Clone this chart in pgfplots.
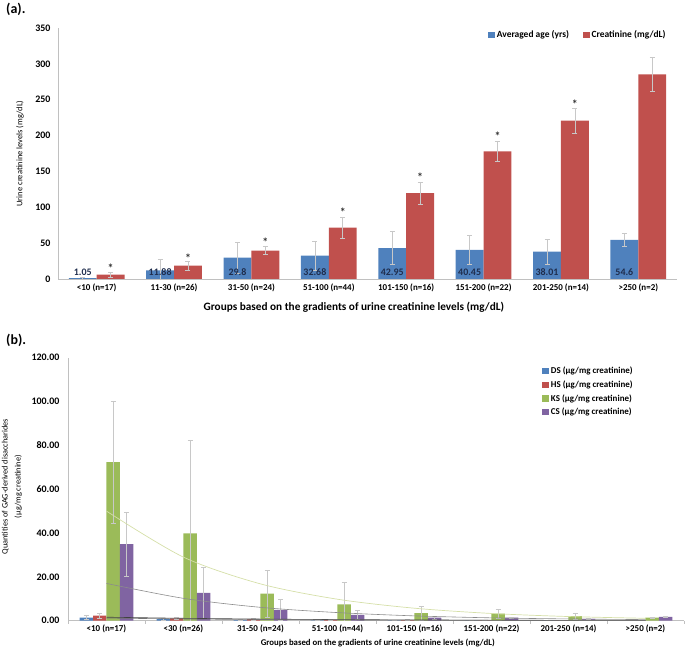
\documentclass[border=0pt]{standalone}
\usepackage{fontspec}
\setmainfont{Carlito}
\usepackage{pgfplots}
\pgfplotsset{compat=1.18}
\definecolor{cblue}{HTML}{4F81BD}
\definecolor{cred}{HTML}{C0504D}
\definecolor{cgreen}{HTML}{9BBB59}
\definecolor{cpurple}{HTML}{8064A2}
\definecolor{errc}{HTML}{C8C8C8}
\definecolor{axc}{HTML}{C0C0C0}
\definecolor{labc}{HTML}{1F2D4D}
\definecolor{kstr}{HTML}{D5DFA8}
\definecolor{cstr}{HTML}{8C8C8C}

\pgfplotsset{
  excel/.style={
    scale only axis, anchor=south west,
    axis x line*=bottom, axis y line*=left,
    axis line style={draw=axc, line width=0.8pt},
    xmin=-0.5, xmax=7.5, ymin=0,
    xtick={0,...,7},
    major tick length=0pt,
    xticklabel style={font=\fontsize{9}{10}\selectfont\bfseries},
    yticklabel style={font=\fontsize{10}{11}\selectfont\bfseries},
    /pgf/number format/assume math mode=true,
    legend cell align=left,
    legend image code/.code={\path[#1,draw=none] (0bp,-3.2bp) rectangle (6.5bp,3.2bp);},
  },
  errs/.style={
    draw=none, no markers,
    error bars/y dir=both, error bars/y explicit,
    error bars/error bar style={draw=errc, line width=0.6pt},
    error bars/error mark options={draw=errc, rotate=90, mark size=2.5bp, line width=0.6pt},
  },
}

\begin{document}
\begin{tikzpicture}
\useasboundingbox (0,0) rectangle (685bp,647bp);

% ---------------- (a) ----------------
\begin{axis}[excel,
  at={(58bp,368bp)}, width=619bp, height=251bp,
  ymax=350, ytick={0,50,...,350},
  xticklabels={{<10 (n=17)},{11-30 (n=26)},{31-50 (n=24)},{51-100 (n=44)},{101-150 (n=16)},{151-200 (n=22)},{201-250 (n=14)},{>250 (n=2)}},
  yticklabel style={xshift=-4bp},
  xticklabel style={yshift=-1bp},
  ylabel={Urine creatinine levels (mg/dL)},
  ylabel style={at={(axis description cs:-0.0614,0.5)}, anchor=center, font=\fontsize{8.5}{10}\selectfont},
  xlabel={Groups based on the gradients of urine creatinine levels (mg/dL)},
  xlabel style={at={(axis description cs:0.478,-0.1116)}, anchor=center, font=\fontsize{11.3}{12}\selectfont\bfseries},
  legend columns=2,
  legend style={draw=none, fill=none, at={(0.99,1.005)}, anchor=north east,
    font=\fontsize{9.5}{11}\selectfont\bfseries,
    /tikz/every even column/.append style={column sep=12bp}},
]
\addplot[ybar, bar width=0.36, bar shift=-0.18, fill=cblue, draw=none]
 coordinates {(0,1.05) (1,11.88) (2,29.8) (3,32.68) (4,42.95) (5,40.45) (6,38.01) (7,54.6)};
\addlegendentry{Averaged age (yrs)}
\addplot[ybar, bar width=0.36, bar shift=0.18, fill=cred, draw=none]
 coordinates {(0,6) (1,18.6) (2,39.5) (3,71.6) (4,119.7) (5,177.8) (6,220.7) (7,285.3)};
\addlegendentry{Creatinine (mg/dL)}
% error bars
\addplot[forget plot, errs]
 coordinates {(-0.18,1.05) +- (0,1.5) (0.82,11.88) +- (0,16) (1.82,29.8) +- (0,22) (2.82,32.68) +- (0,20.5)
              (3.82,42.95) +- (0,23) (4.82,40.45) +- (0,20) (5.82,38.01) +- (0,17) (6.82,54.6) +- (0,9)};
\addplot[forget plot, errs]
 coordinates {(0.18,6) +- (0,3.4) (1.18,18.6) +- (0,6.5) (2.18,39.5) +- (0,5.5) (3.18,71.6) +- (0,15)
              (4.18,119.7) +- (0,15) (5.18,177.8) +- (0,14) (6.18,220.7) +- (0,17.7) (7.18,285.3) +- (0,24)};
% value labels in the blue bars
\addplot[forget plot, draw=none, no markers, nodes near coords, point meta=explicit symbolic,
  every node near coord/.style={anchor=center, font=\fontsize{10}{11}\selectfont\bfseries, text=labc}]
 coordinates {(-0.18,10) [1.05] (0.82,10) [11.88] (1.82,10) [29.8] (2.82,10) [32.68]
              (3.82,10) [42.95] (4.82,10) [40.45] (5.82,10) [38.01] (6.82,10) [54.6]};
% asterisks
\addplot[forget plot, draw=none, no markers, nodes near coords, point meta=explicit symbolic,
  every node near coord/.style={anchor=center, font=\fontsize{12}{12}\selectfont\bfseries, text=black!80}]
 coordinates {(0.18,14.5) [*] (1.18,29.5) [*] (2.18,51.5) [*] (3.18,93.5) [*]
              (4.18,141.5) [*] (5.18,198.5) [*] (6.18,243.5) [*]};
\end{axis}

% ---------------- (b) ----------------
\begin{axis}[excel,
  at={(68bp,26.3bp)}, width=616bp, height=263bp,
  ymax=120, ytick={0,20,...,120},
  /pgf/number format/fixed, /pgf/number format/fixed zerofill, /pgf/number format/precision=2,
  yticklabel style={xshift=-5bp},
  xticklabels={{<10 (n=17)},{<30 (n=26)},{31-50 (n=24)},{51-100 (n=44)},{101-150 (n=16)},{151-200 (n=22)},{201-250 (n=14)},{>250 (n=2)}},
  xticklabel style={yshift=-1bp},
  minor xtick={-0.5,0.5,...,7.5},
  minor tick length=3bp, tick align=outside,
  minor tick style={draw=axc},
  ylabel={Quantities of GAG-derived disaccharides\\(µg/mg creatinine)},
  ylabel style={at={(axis description cs:-0.0909,0.51)}, anchor=center, align=center, font=\fontsize{8.3}{13}\selectfont},
  xlabel={Groups based on the gradients of urine creatinine levels (mg/dL)},
  xlabel style={at={(axis description cs:0.503,-0.0837)}, anchor=center, font=\fontsize{8.8}{10}\selectfont\bfseries},
  legend style={draw=none, fill=none, at={(0.765,0.98)}, anchor=north west,
    font=\fontsize{9}{10}\selectfont\bfseries, row sep=1.5bp},
]
\addplot[ybar, bar width=0.175, bar shift=-0.2625, fill=cblue, draw=none]
 coordinates {(0,1.4) (1,0.7) (2,0.3) (3,0.2) (4,0.2) (5,0.1) (6,0.1) (7,0.1)};
\addlegendentry{DS (µg/mg creatinine)}
\addplot[ybar, bar width=0.175, bar shift=-0.0875, fill=cred, draw=none]
 coordinates {(0,2.3) (1,1.1) (2,0.7) (3,0.4) (4,0.3) (5,0.2) (6,0.2) (7,0.1)};
\addlegendentry{HS (µg/mg creatinine)}
\addplot[ybar, bar width=0.175, bar shift=0.0875, fill=cgreen, draw=none]
 coordinates {(0,72.3) (1,39.8) (2,12.3) (3,7.4) (4,3.4) (5,3.2) (6,2.1) (7,1.4)};
\addlegendentry{KS (µg/mg creatinine)}
\addplot[ybar, bar width=0.175, bar shift=0.2625, fill=cpurple, draw=none]
 coordinates {(0,34.9) (1,12.7) (2,4.9) (3,2.7) (4,1.4) (5,1.4) (6,0.8) (7,1.7)};
\addlegendentry{CS (µg/mg creatinine)}
% error bars
\addplot[forget plot, errs]
 coordinates {(-0.2625,1.4) +- (0,0.9) (0.7375,0.7) +- (0,0.3) (1.7375,0.3) +- (0,0.2) (2.7375,0.2) +- (0,0.1)
              (3.7375,0.2) +- (0,0.1) (4.7375,0.1) +- (0,0.05) (5.7375,0.1) +- (0,0.05) (6.7375,0.1) +- (0,0.05)};
\addplot[forget plot, errs]
 coordinates {(-0.0875,2.3) +- (0,1.3) (0.9125,1.1) +- (0,0.5) (1.9125,0.7) +- (0,0.3) (2.9125,0.4) +- (0,0.2)
              (3.9125,0.3) +- (0,0.2) (4.9125,0.2) +- (0,0.1) (5.9125,0.2) +- (0,0.1) (6.9125,0.1) +- (0,0.05)};
\addplot[forget plot, errs]
 coordinates {(0.0875,72.3) +- (0,28) (1.0875,39.8) +- (0,42.7) (2.0875,12.3) +- (0,10.8) (3.0875,7.4) +- (0,10.1)
              (4.0875,3.4) +- (0,3.0) (5.0875,3.2) +- (0,2.0) (6.0875,2.1) +- (0,1.3) (7.0875,1.4) +- (0,0.3)};
\addplot[forget plot, errs]
 coordinates {(0.2625,34.9) +- (0,14.5) (1.2625,12.7) +- (0,11.8) (2.2625,4.9) +- (0,4.9) (3.2625,2.7) +- (0,1.9)
              (4.2625,1.4) +- (0,0.6) (5.2625,1.4) +- (0,0.3) (6.2625,0.8) +- (0,0.2) (7.2625,1.7) +- (0,0.2)};
% exponential trend lines
\addplot[forget plot, smooth, no markers, draw=kstr, line width=0.7pt]
 coordinates {(0,50) (1,29) (2,16.8) (3,9.8) (4,5.7) (5,3.3) (6,1.9) (7,1.1)};
\addplot[forget plot, smooth, no markers, draw=cstr, line width=0.6pt]
 coordinates {(0,17) (1,10.2) (2,6.1) (3,3.7) (4,2.2) (5,1.3) (6,0.8) (7,0.5)};
\addplot[forget plot, smooth, no markers, draw=black!75, line width=0.6pt]
 coordinates {(0,1.6) (1,1.1) (2,0.75) (3,0.5) (4,0.35) (5,0.24) (6,0.16) (7,0.11)};
\addplot[forget plot, smooth, no markers, draw=black!55, line width=0.6pt]
 coordinates {(0,1.2) (1,0.8) (2,0.55) (3,0.38) (4,0.26) (5,0.18) (6,0.12) (7,0.08)};
\end{axis}

\node[anchor=north west, font=\fontsize{14}{16}\selectfont\bfseries, inner sep=0pt] at (6bp,644bp) {(a).};
\node[anchor=west, font=\fontsize{14}{16}\selectfont\bfseries, inner sep=0pt] at (6bp,307bp) {(b).};
\end{tikzpicture}
\end{document}
